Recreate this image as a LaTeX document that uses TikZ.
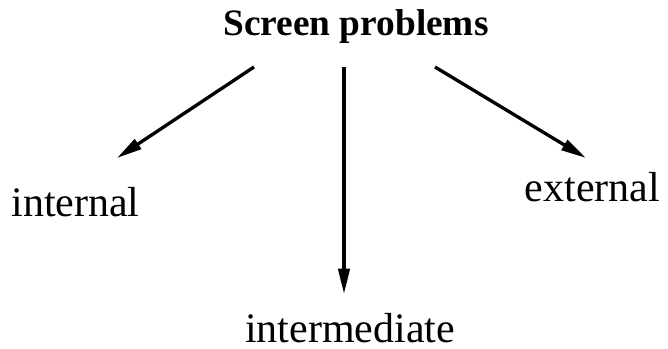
\documentclass[tikz,border=0pt]{standalone}
\usepackage{fontspec}
\setmainfont{Liberation Serif}
\usetikzlibrary{arrows.meta}
\begin{document}
\begin{tikzpicture}[x=0.75pt,y=-0.75pt,
  lbl/.style={anchor=base,inner sep=0pt,font=\fontsize{31.5pt}{36pt}\selectfont},
  ttl/.style={anchor=base,inner sep=0pt,font=\fontsize{28pt}{32pt}\selectfont\bfseries},
  arr/.style={line width=2.5pt,-{Triangle[length=19pt,width=8.5pt]}}]
\useasboundingbox (0,0) rectangle (668,349);
\node[ttl] (title) at (356,36) {Screen problems};
\node[lbl] (internal) at (75.5,217) {internal};
\node[lbl] (external) at (592.5,202) {external};
\node[lbl] (intermediate) at (350,342) {intermediate};
\coordinate (s1) at (254,67);
\coordinate (e1) at (117,158);
\coordinate (s2) at (344,67);
\coordinate (e2) at (344,294);
\coordinate (s3) at (435,67);
\coordinate (e3) at (586,158);
\draw[arr] (s1) -- (e1);
\draw[arr] (s2) -- (e2);
\draw[arr] (s3) -- (e3);
\end{tikzpicture}
\end{document}
